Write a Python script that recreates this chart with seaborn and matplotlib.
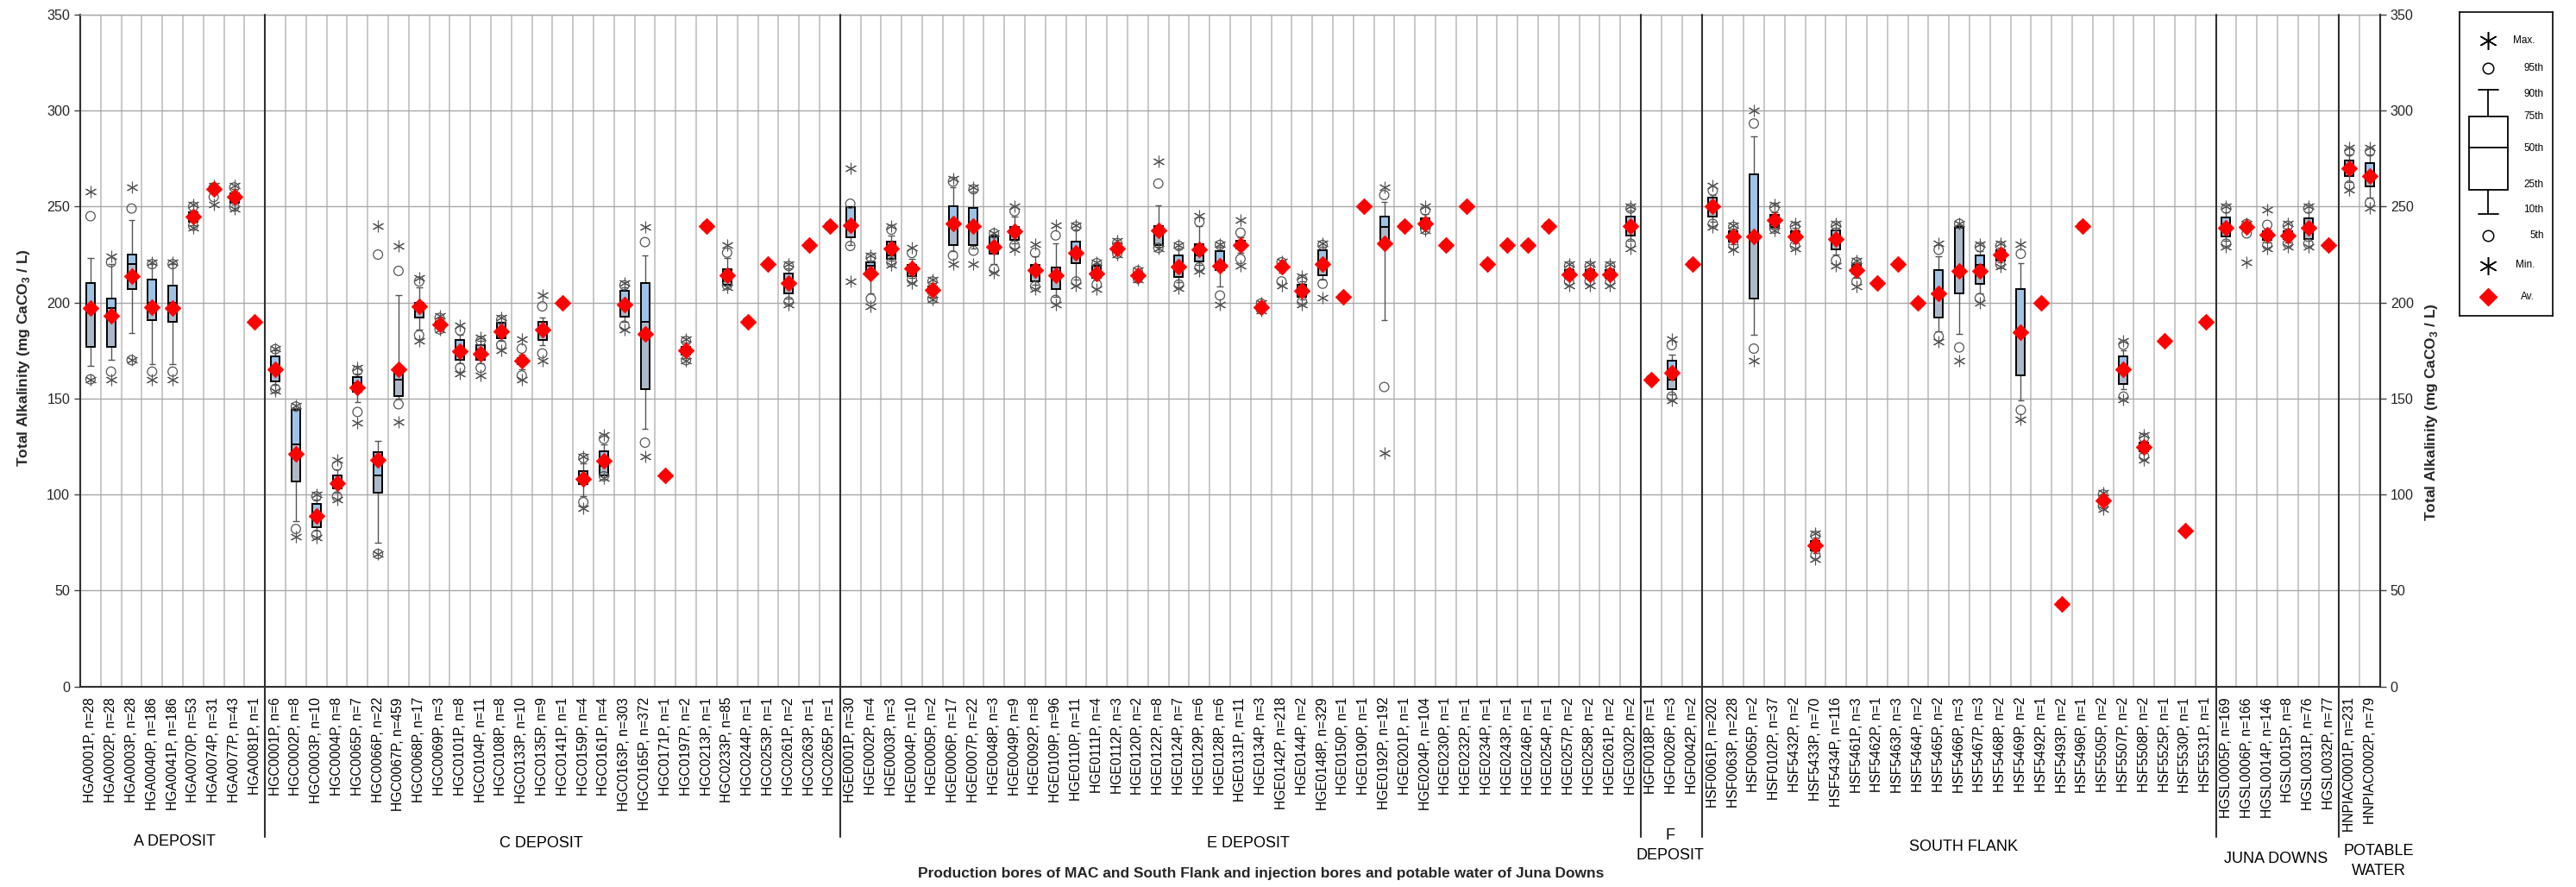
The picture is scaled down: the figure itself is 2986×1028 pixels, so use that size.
import numpy as np
import pandas as pd
import matplotlib
matplotlib.use("Agg")
import matplotlib.pyplot as plt
from matplotlib.transforms import blended_transform_factory
import seaborn as sns

# ---------------------------------------------------------------- data
bores = [
    "HGA0001P", "HGA0002P", "HGA0003P", "HGA0040P", "HGA0041P", "HGA0070P", "HGA0074P", "HGA0077P", "HGA0081P",
    "HGC0001P", "HGC0002P", "HGC0003P", "HGC0004P", "HGC0065P", "HGC0066P", "HGC0067P", "HGC0068P", "HGC0069P",
    "HGC0101P", "HGC0104P", "HGC0108P", "HGC0133P", "HGC0135P", "HGC0141P", "HGC0159P", "HGC0161P", "HGC0163P",
    "HGC0165P", "HGC0171P", "HGC0197P", "HGC0213P", "HGC0233P", "HGC0244P", "HGC0253P", "HGC0261P", "HGC0263P",
    "HGC0265P",
    "HGE0001P", "HGE0002P", "HGE0003P", "HGE0004P", "HGE0005P", "HGE0006P", "HGE0007P", "HGE0048P", "HGE0049P",
    "HGE0092P", "HGE0109P", "HGE0110P", "HGE0111P", "HGE0112P", "HGE0120P", "HGE0122P", "HGE0124P", "HGE0129P",
    "HGE0128P", "HGE0131P", "HGE0134P", "HGE0142P", "HGE0144P", "HGE0148P", "HGE0150P", "HGE0190P", "HGE0192P",
    "HGE0201P", "HGE0204P", "HGE0230P", "HGE0232P", "HGE0234P", "HGE0243P", "HGE0246P", "HGE0254P", "HGE0257P",
    "HGE0258P", "HGE0261P", "HGE0302P",
    "HGF0018P", "HGF0026P", "HGF0042P",
    "HSF0061P", "HSF0063P", "HSF0065P", "HSF0102P", "HSF5432P", "HSF5433P", "HSF5434P", "HSF5461P", "HSF5462P",
    "HSF5463P", "HSF5464P", "HSF5465P", "HSF5466P", "HSF5467P", "HSF5468P", "HSF5469P", "HSF5492P", "HSF5493P",
    "HSF5496P", "HSF5505P", "HSF5507P", "HSF5508P", "HSF5525P", "HSF5530P", "HSF5531P",
    "HGSL0005P", "HGSL0006P", "HGSL0014P", "HGSL0015P", "HGSL0031P", "HGSL0032P",
    "HNPIAC0001P", "HNPIAC0002P",
]
counts = [
    28, 28, 28, 186, 186, 53, 31, 43, 1,
    6, 8, 10, 8, 7, 22, 459, 17, 3, 8, 11, 8, 10, 9, 1, 4, 4, 303, 372, 1, 2, 1, 85, 1, 1, 2, 1, 1,
    30, 4, 3, 10, 2, 17, 22, 3, 9, 8, 96, 11, 4, 3, 2, 8, 7, 6, 6, 11, 3, 218, 2, 329, 1, 1, 192, 1, 104,
    1, 1, 1, 1, 1, 1, 2, 2, 2, 2,
    1, 3, 2,
    202, 228, 2, 37, 2, 70, 116, 3, 1, 3, 2, 2, 3, 3, 2, 2, 1, 2, 1, 2, 2, 2, 1, 1, 1,
    169, 166, 146, 8, 76, 77,
    231, 79,
]
group_names = ["A DEPOSIT", "C DEPOSIT", "E DEPOSIT", "F\nDEPOSIT", "SOUTH FLANK", "JUNA DOWNS", "POTABLE\nWATER"]
group_sizes = [9, 28, 39, 3, 25, 6, 2]

# Summary statistics, total alkalinity (mg CaCO3 / L)
v_min = [
    160, 160, 170, 160, 160, 239, 251, 249, 190,
    154, 78, 77.5, 97.5, 137.5, 69, 138, 180, 186, 163, 162, 175, 160, 169.5, 200, 93, 108.5, 186, 120, 110,
    169.5, 240, 208, 190, 220, 199, 230, 240,
    211, 198, 219.7, 210, 201.5, 220, 220, 215.6, 227.5, 207, 199, 209, 207, 225, 212, 228, 207.7, 216.5,
    199, 219, 196, 209, 198.8, 202.7, 203, 250, 121.5, 240, 237.8, 230, 250, 220, 230, 230, 240, 209, 209,
    209, 228,
    160, 149, 220,
    239.3, 227.5, 169.5, 237.8, 228, 66.5, 219, 208.5, 210, 220, 200, 179.6, 169.8, 199.7, 218.7, 139.3, 200,
    43, 240, 92.6, 149.4, 118, 180, 81, 190,
    229, 221, 228, 229, 229, 230,
    258.8, 249.4,
]
v_p5 = [
    160, 164, 170, 164, 164, 240, 255, 250, 190,
    155, 82, 79, 99, 143, 69, 147, 183, 186, 166, 166, 178, 162, 173.5, 200, 96, 109.5, 188, 127, 110,
    170, 240, 209, 190, 220, 200.5, 230, 240,
    229.5, 202, 221, 212, 202, 224.5, 227, 217.4, 229.8, 208.5, 201.4, 211, 209.4, 225.5, 212.5, 228.5, 209.4,
    218.3, 203.7, 222.7, 196.5, 211, 200.5, 209.8, 203, 250, 156, 240, 238, 230, 250, 220, 230, 230, 240, 211,
    211, 211, 230.7,
    160, 151, 220,
    241, 229.8, 176, 238.5, 229.8, 68.5, 222, 211, 210, 220, 200, 182.4, 176.6, 202.3, 220, 144, 200,
    43, 240, 94, 151, 120, 180, 81, 190,
    230.7, 236, 230, 230.7, 230.7, 230,
    261, 252,
]
v_p10 = [
    167, 170, 184, 168, 168, 240.5, 257, 251, 190,
    157, 86, 81, 101, 148, 75, 150, 186, 186.5, 168.5, 168.5, 180, 165, 178, 200, 99, 110, 190, 134, 110,
    171, 240, 209.5, 190, 220, 202, 230, 240,
    230, 205, 222, 213, 203, 227, 228, 220, 231, 209.5, 203, 212, 212, 226, 213, 229, 210.5, 219.5,
    208.5, 225.8, 197, 215.6, 201.5, 212, 203, 250, 191, 240, 238.5, 230, 250, 220, 230, 230, 240, 212, 212,
    212, 232,
    160, 152, 220,
    242, 230.5, 183, 239, 231, 69.5, 225, 213, 210, 220, 200, 185, 183.7, 205, 221, 149, 200,
    43, 240, 95, 155, 121.5, 180, 81, 190,
    232, 237, 231.5, 231.5, 232, 230,
    263, 254.7,
]
v_p25 = [
    177, 177, 207, 191, 190, 242, 259, 252, 190,
    159, 107, 83, 103, 153.5, 101, 151.5, 192, 187, 170, 170, 181.5, 168, 180.5, 200, 105.5, 110, 192.5, 155,
    110, 173, 240, 209.5, 190, 220, 205, 230, 240,
    234, 214, 222.7, 214, 205, 230, 230, 225.4, 232.5, 211, 207, 220.6, 213, 227, 213.5, 230, 213.3, 221.5,
    217, 228, 197.5, 217.4, 203.2, 214.2, 203, 250, 231.6, 240, 238.7, 230, 250, 220, 230, 230, 240, 213,
    213, 213, 234.8,
    160, 154.7, 220,
    245, 231.6, 202.3, 239.6, 232.5, 71, 227.5, 215, 210, 220, 200, 192.2, 205, 209.8, 221.9, 162, 200,
    43, 240, 96, 157.4, 122.4, 180, 81, 190,
    234.3, 238, 232.5, 232.9, 233, 230,
    266, 260.6,
]
v_median = [
    197, 197, 220, 200, 200, 245, 260, 255, 190,
    165, 126, 89.5, 106, 158, 110, 160, 198, 189, 175, 175.7, 185, 170, 186, 200, 108, 115, 199, 190, 110,
    175, 240, 213, 190, 220, 210, 230, 240,
    241, 219, 224.5, 217, 207, 241, 240, 229, 237, 217, 214, 226, 215, 228, 214.4, 236, 217.5, 224.5,
    219, 230, 198, 219, 206, 220, 203, 250, 239.6, 240, 241, 230, 250, 220, 230, 230, 240, 215, 215,
    215, 240,
    160, 160, 220,
    250, 234.6, 235, 243, 234.6, 74, 233, 217, 210, 220, 200, 205, 239, 219.7, 224.5, 184.6, 200,
    43, 240, 96.7, 165, 124.7, 180, 81, 190,
    239, 240, 235, 234.8, 239, 230,
    270, 266,
]
v_p75 = [
    210, 202, 225, 212, 209, 247, 260, 257, 190,
    172, 144, 95, 110, 161, 122, 164, 200, 190, 180.5, 178, 189.5, 171, 190, 200, 112, 122.5, 206, 210, 110,
    177, 240, 217.5, 190, 220, 215, 230, 240,
    249.7, 221, 231.6, 219.7, 208.5, 250, 249.5, 234.6, 239.6, 219.7, 218.3, 231.6, 219.2, 229, 215.5, 240,
    224.5, 230.4, 226.8, 232, 198.5, 220.1, 209.4, 227.2, 203, 250, 245, 240, 244, 230, 250, 220, 230, 230,
    240, 217, 217, 217, 245,
    160, 169.8, 220,
    254.7, 237, 267, 245.8, 237, 75.7, 237.8, 219.7, 210, 220, 200, 217, 239.6, 224.7, 227.2, 207, 200,
    43, 240, 98, 172, 126.8, 180, 81, 190,
    244.4, 240.5, 237, 237, 244, 230,
    274.2, 272.5,
]
v_p90 = [
    223, 220, 243, 220, 220, 248, 260, 259, 190,
    175, 145, 97.5, 113, 163, 128, 204, 208, 192, 183, 180, 190, 173, 192, 200, 116, 126, 208, 224.5, 110,
    179, 240, 223, 190, 220, 218, 230, 240,
    250, 222, 235, 222.7, 210, 260, 258, 235.5, 245, 224, 230.7, 238, 220, 230, 216, 250.6, 228, 240,
    229, 234, 199, 221, 211, 229, 203, 250, 252.4, 240, 246, 230, 250, 220, 230, 230, 240, 218, 218,
    218, 248,
    160, 173, 220,
    256, 238.5, 286.7, 247, 239, 77.5, 239, 220.5, 210, 220, 200, 224, 240.5, 227, 228.5, 220.4, 200,
    43, 240, 99, 175, 128, 180, 81, 190,
    247, 241, 238.5, 238.5, 247, 230,
    277, 277,
]
v_p95 = [
    245, 221, 249, 220, 220, 250, 260, 260, 190,
    175.7, 145.8, 99, 115, 164.5, 225, 216.5, 211, 192, 185.5, 180, 191, 176, 198, 200, 119, 129, 209, 231.5,
    110, 180, 240, 226, 190, 220, 219, 230, 240,
    251.5, 223.5, 238, 225.8, 211, 263, 259, 236, 247.6, 226, 235, 239.6, 220.5, 231, 216.5, 262, 229.5, 242,
    230, 236.4, 199.5, 221, 212, 230, 203, 250, 256, 240, 248, 230, 250, 220, 230, 230, 240, 219, 219,
    219, 249,
    160, 177.8, 220,
    258.3, 239.5, 293.3, 249.5, 239.6, 78.5, 240, 221, 210, 220, 200, 227.5, 241, 229, 229.5, 225.4, 200,
    43, 240, 100, 178, 129.5, 180, 81, 190,
    249, 241, 240.5, 240, 249, 230,
    278.7, 278.7,
]
v_max = [
    258, 224, 260, 221, 221, 251, 261, 261, 190,
    176, 146.4, 100, 118, 166, 240, 229.5, 213, 193, 188, 182, 192, 181, 204, 200, 120, 131, 210, 239.5, 110,
    181, 240, 230, 190, 220, 220, 230, 240,
    270, 224.5, 240, 228.6, 212, 264.5, 260, 236.4, 250.3, 230.4, 240.5, 240.5, 221, 232, 217, 273.7, 229.8,
    245.3, 230.4, 243, 200, 221.3, 214, 230.7, 203, 250, 260, 240, 250.3, 230, 250, 220, 230, 230, 240, 220,
    220, 220, 250.3,
    160, 181, 220,
    261, 240.5, 300, 251.2, 241, 80, 241, 222, 210, 220, 200, 230.7, 241.4, 230.2, 230.7, 230.2, 200,
    43, 240, 101, 180, 131, 180, 81, 190,
    250.3, 241.4, 248.5, 241, 250.3, 230,
    280.8, 280.8,
]
v_mean = [
    197, 193, 214, 197.7, 197, 244.8, 259, 255, 190,
    165.2, 121.3, 89, 106, 155.8, 117.9, 165.4, 197.9, 188.5, 174.8, 173.4, 184.9, 169.5, 185.8, 200, 108.2,
    117.4, 199.1, 183.7, 110, 175, 240, 214.4, 190, 220, 210, 230, 240,
    240.5, 215.3, 228.1, 218, 206.8, 241, 240, 228.9, 237, 216.9, 214.2, 225.8, 215.3, 228.1, 214.4, 237.8,
    218.8, 227.5, 219.2, 229.8, 197.7, 218.8, 206.2, 220.1, 203, 250, 230.7, 240, 241, 230, 250, 220, 230,
    230, 240, 214.8, 214.8, 214.8, 240,
    160, 163.3, 220,
    250.3, 234.6, 234.6, 243.2, 234.6, 73.6, 232.9, 216.9, 210, 220, 200, 205, 216.5, 216.5, 224.9, 184.6,
    200, 43, 240, 96.7, 165, 124.7, 180, 81, 190,
    239.1, 239.3, 235.2, 234.8, 239.1, 230,
    269.8, 265.9,
]

# ---------------------------------------------------------------- style
W, H = 2986, 1028
sns.set_theme(style="white")
plt.rcParams["font.family"] = ["Liberation Sans", "DejaVu Sans"]
plt.rcParams["mathtext.fontset"] = "custom"
plt.rcParams["mathtext.rm"] = "Liberation Sans"
plt.rcParams["mathtext.bf"] = "Liberation Sans:bold"

C_UPPER = "#9DC3E6"
C_LOWER = "#ADB9CA"
C_MARK = "#555555"
C_AVG = "#FF0000"

stats = pd.DataFrame({
    "pos": np.arange(len(bores)),
    "min": v_min, "p5": v_p5, "p10": v_p10, "p25": v_p25, "median": v_median,
    "p75": v_p75, "p90": v_p90, "p95": v_p95, "max": v_max, "mean": v_mean,
})


def px(x, y):
    """Pixel position -> figure fraction."""
    return x / W, 1 - y / H


fig = plt.figure(figsize=(W / 100, H / 100), dpi=100)
ax_l, ax_b = px(93, 795.5)
ax_r, ax_t = px(2759, 17)
ax = fig.add_axes([ax_l, ax_b, ax_r - ax_l, ax_t - ax_b])
ax.set_facecolor("white")

# ---------------------------------------------------------------- boxes & whiskers
has_box = stats[stats["p75"] > stats["p25"]]
ax.bar(has_box["pos"], has_box["p75"] - has_box["median"], bottom=has_box["median"], width=0.42,
       color=C_UPPER, edgecolor="black", linewidth=1.4, zorder=3)
ax.bar(has_box["pos"], has_box["median"] - has_box["p25"], bottom=has_box["p25"], width=0.42,
       color=C_LOWER, edgecolor="black", linewidth=1.4, zorder=3)

up = stats[stats["p90"] > stats["p75"]]
ax.vlines(up["pos"], up["p75"], up["p90"], color=C_MARK, linewidth=1.0, zorder=2.5)
ax.hlines(up["p90"], up["pos"] - 0.16, up["pos"] + 0.16, color=C_MARK, linewidth=1.0, zorder=2.5)
lo = stats[stats["p25"] > stats["p10"]]
ax.vlines(lo["pos"], lo["p10"], lo["p25"], color=C_MARK, linewidth=1.0, zorder=2.5)
ax.hlines(lo["p10"], lo["pos"] - 0.16, lo["pos"] + 0.16, color=C_MARK, linewidth=1.0, zorder=2.5)

# ---------------------------------------------------------------- markers
ends = stats.melt(id_vars="pos", value_vars=["min", "max"], value_name="value")
tails = stats.melt(id_vars="pos", value_vars=["p5", "p95"], value_name="value")
sns.scatterplot(data=tails, x="pos", y="value", marker="o", s=60, facecolor="none",
                edgecolor=C_MARK, linewidth=0.9, ax=ax, zorder=4, legend=False)
sns.scatterplot(data=ends, x="pos", y="value", marker=(6, 2, 0), s=85, color=C_MARK,
                linewidth=0.8, ax=ax, zorder=4, legend=False)
sns.scatterplot(data=stats, x="pos", y="mean", marker="D", s=90, color=C_AVG,
                edgecolor=C_AVG, linewidth=0.5, ax=ax, zorder=5, legend=False)

# ---------------------------------------------------------------- axes
n_cat = len(bores)
ax.set_xlim(-0.5, n_cat - 0.5)
ax.set_ylim(0, 350)
ax.set_xlabel("")
ax.set_ylabel("")
ax.set_xticks(np.arange(n_cat))
ax.set_xticklabels([f"{b}, n={n}" for b, n in zip(bores, counts)], rotation=90, fontsize=11.3)
ax.set_xticks(np.arange(n_cat + 1) - 0.5, minor=True)
ax.tick_params(axis="x", which="major", length=0, pad=9, colors="black")
ax.tick_params(axis="x", which="minor", length=9, direction="inout", width=1.0, color="#404040")
ax.set_yticks(np.arange(0, 351, 50))
ax.tick_params(axis="y", which="major", length=5, direction="out", labelsize=11.6, width=1.0,
               color="#404040", left=True)
ax.grid(True, axis="x", which="minor", color="#C4C4C4", linewidth=1.3)
ax.grid(True, axis="y", which="major", color="#A8A8A8", linewidth=1.0)
ax.grid(False, axis="x", which="major")
ax.set_axisbelow(True)
for side in ["left", "bottom", "right"]:
    ax.spines[side].set_visible(True)
    ax.spines[side].set_color("#303030")
    ax.spines[side].set_linewidth(1.5)
ax.spines["top"].set_color("#A8A8A8")
ax.spines["top"].set_linewidth(1.0)

ax2 = ax.twinx()
ax2.set_ylim(0, 350)
ax2.set_yticks(np.arange(0, 351, 50))
ax2.tick_params(axis="y", length=5, direction="out", labelsize=11.6, width=1.0, color="#404040", right=True)
ax2.grid(False)
for side in ["left", "bottom", "top"]:
    ax2.spines[side].set_visible(False)
ax2.spines["right"].set_color("#303030")
ax2.spines["right"].set_linewidth(1.5)

# group separators, running from the top of the plot down past the tick labels
trans = blended_transform_factory(ax.transData, ax.transAxes)
edges = np.cumsum(group_sizes)[:-1] - 0.5
line_bottom = (795.5 - 970) / (795.5 - 17)
for e in edges:
    ax.plot([e, e], [1.0, line_bottom], color="#303030", linewidth=1.5, transform=trans,
            clip_on=False, zorder=6)

# group names under the tick labels
group_label_px = [(202, 975), (627, 977), (1447, 977), (1936, 980), (2276, 981), (2638, 996), (2757, 998)]
for name, (gx, gy) in zip(group_names, group_label_px):
    fx, fy = px(gx, gy)
    fig.text(fx, fy, name, ha="center", va="center", fontsize=13, linespacing=1.45, color="black")

# axis titles
fx, fy = px(1462, 1012)
fig.text(fx, fy, "Production bores of MAC and South Flank and injection bores and potable water of Juna Downs",
         ha="center", va="center", fontsize=12.5, fontweight="bold")
ytitle = r"Total Alkalinity (mg CaCO$_\mathbf{3}$ / L)"
fx, fy = px(28, 415)
fig.text(fx, fy, ytitle, ha="center", va="center", rotation=90, fontsize=12.5, fontweight="bold")
fx, fy = px(2818, 478)
fig.text(fx, fy, ytitle, ha="center", va="center", rotation=90, fontsize=12.5, fontweight="bold")

# ---------------------------------------------------------------- key
kx0, ky0, kx1, ky1 = 2851, 14, 2959, 366
l, b = px(kx0, ky1)
r, t = px(kx1, ky0)
kax = fig.add_axes([l, b, r - l, t - b])
kax.set_xlim(kx0, kx1)
kax.set_ylim(ky1, ky0)
kax.set_xticks([])
kax.set_yticks([])
kax.set_facecolor("white")
for s in kax.spines.values():
    s.set_visible(True)
    s.set_color("black")
    s.set_linewidth(1.2)
cx = 2884
kax.plot([cx], [47], marker=(6, 2, 0), markersize=15, color="black", markeredgewidth=1.1)
kax.plot([cx], [79], marker="o", markersize=9, markerfacecolor="none", markeredgecolor="black",
         markeredgewidth=1.1)
kax.plot([cx - 11.5, cx + 11.5], [104, 104], color="black", linewidth=1.3)
kax.plot([cx, cx], [104, 135], color="black", linewidth=1.3)
kax.add_patch(plt.Rectangle((cx - 22.5, 135), 45, 85, facecolor="white", edgecolor="black", linewidth=1.3))
kax.plot([cx - 22.5, cx + 22.5], [171, 171], color="black", linewidth=1.3)
kax.plot([cx, cx], [220, 248], color="black", linewidth=1.3)
kax.plot([cx - 11.5, cx + 11.5], [248, 248], color="black", linewidth=1.3)
kax.plot([cx], [273], marker="o", markersize=9, markerfacecolor="none", markeredgecolor="black",
         markeredgewidth=1.1)
kax.plot([cx], [308], marker=(6, 2, 0), markersize=15, color="black", markeredgewidth=1.1)
kax.plot([cx], [344], marker="D", markersize=10, color=C_AVG)
key_text = [("Max.", 2926, 47), ("95th", 2937, 79), ("90th", 2937, 109), ("75th", 2937, 135),
            ("50th", 2937, 172), ("25th", 2937, 214), ("10th", 2937, 243), ("5th", 2941, 273),
            ("Min.", 2927, 307), ("Av.", 2930, 344)]
for txt, tx, ty in key_text:
    kax.text(tx, ty, txt, ha="center", va="center", fontsize=8.5, color="black")

fig.savefig("out.png", dpi=100, facecolor="white")
